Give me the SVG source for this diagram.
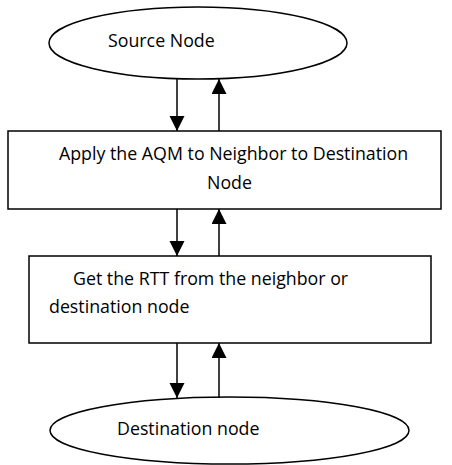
<svg xmlns="http://www.w3.org/2000/svg" width="452" height="465" viewBox="0 0 452 465">
<defs>
<marker id="ah" markerUnits="userSpaceOnUse" markerWidth="16" markerHeight="16" refX="15" refY="7.5" orient="auto">
<path d="M0,0 L15,7.5 L0,15 Z" fill="#000"/>
</marker>
</defs>
<style>
.shape{fill:#fff;stroke:#000;stroke-width:1.5}
.lbl{font-family:"Open Sans","Liberation Sans",sans-serif;font-size:17.8px;fill:#000}
.conn line{stroke:#000;stroke-width:1.5;marker-end:url(#ah)}
</style>
<rect width="452" height="465" fill="#fff"/>
<g id="source">
<ellipse class="shape" cx="198" cy="43" rx="149" ry="36"/>
<text class="lbl" x="108" y="47">Source Node</text>
</g>
<g id="apply">
<rect class="shape" x="8" y="131" width="433" height="78"/>
<text class="lbl" x="59" y="160">Apply the AQM to Neighbor to Destination</text>
<text class="lbl" x="207" y="189">Node</text>
</g>
<g id="rtt">
<rect class="shape" x="29" y="256" width="402" height="87"/>
<text class="lbl" x="73" y="285">Get the RTT from the neighbor or</text>
<text class="lbl" x="49" y="313">destination node</text>
</g>
<g id="destination">
<ellipse class="shape" cx="229.5" cy="430.5" rx="179.5" ry="33.5"/>
<text class="lbl" x="117" y="435">Destination node</text>
</g>
<g class="conn" id="connectors">
<line x1="177" y1="79" x2="177" y2="131"/>
<line x1="219" y1="131" x2="219" y2="79"/>
<line x1="177" y1="209" x2="177" y2="256"/>
<line x1="219" y1="256" x2="219" y2="209"/>
<line x1="177" y1="343" x2="177" y2="398"/>
<line x1="219" y1="398" x2="219" y2="343"/>
</g>
</svg>
